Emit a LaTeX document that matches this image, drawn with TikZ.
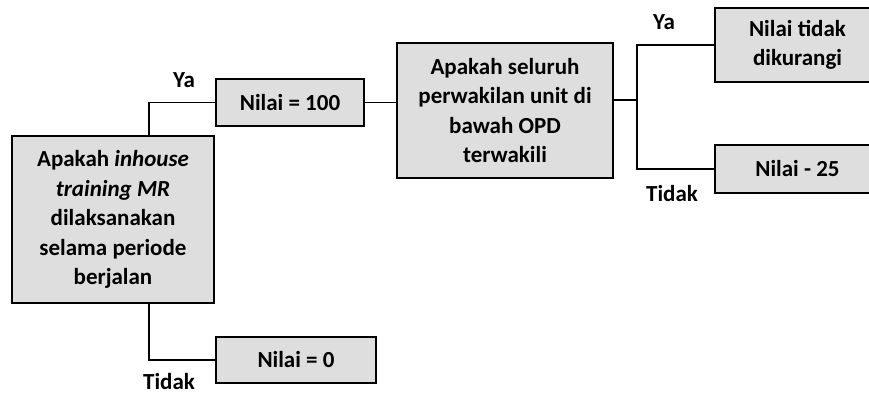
\documentclass[tikz,border=0pt]{standalone}
\usepackage{fontspec}
\setmainfont{Carlito}
\begin{document}
\begin{tikzpicture}[x=1pt,y=-1pt,
  box/.style={draw=black,line width=1.8pt,fill=black!13,align=center,inner sep=0pt,
    font=\fontsize{23}{29.5}\selectfont\bfseries},
  conn/.style={draw=black,line width=1.8pt},
  lbl/.style={font=\fontsize{23}{26}\selectfont\bfseries,inner sep=0pt}]
\useasboundingbox (0,0) rectangle (869,397);
\clip (0,0) rectangle (869,397);
\node[box,minimum width=202pt,minimum height=167pt] (q1) at (113,219.5)
  {Apakah \textit{inhouse}\\\textit{training MR}\\dilaksanakan\\selama periode\\berjalan};
\node[box,minimum width=148pt,minimum height=47pt] (n100) at (290,102.5) {Nilai = 100};
\node[box,minimum width=160pt,minimum height=46pt] (n0) at (296,360) {Nilai = 0};
\node[box,minimum width=216pt,minimum height=135pt] (q2) at (505,110.5)
  {Apakah seluruh\\perwakilan unit di\\bawah OPD\\terwakili};
\node[box,minimum width=165pt,minimum height=74pt] (rt) at (797.5,45) {Nilai tidak\\dikurangi};
\node[box,minimum width=165pt,minimum height=48pt] (r25) at (797.5,169) {Nilai - 25};
\coordinate (j1) at (149,102);
\coordinate (j2) at (637,100);
\draw[conn] (q1.north -| j1) |- (n100.west);
\draw[conn] (q1.south -| j1) |- (n0.west);
\draw[conn] (n100.east) -- (n100.east -| q2.west);
\draw[conn] (q2.east |- j2) -- (j2);
\draw[conn] (rt.west) -| (j2) |- (r25.west);
\node[lbl] (ya1) at (184,80) {Ya};
\node[lbl] (td1) at (169,382) {Tidak};
\node[lbl] (ya2) at (664,22) {Ya};
\node[lbl] (td2) at (672,194) {Tidak};
\end{tikzpicture}
\end{document}
